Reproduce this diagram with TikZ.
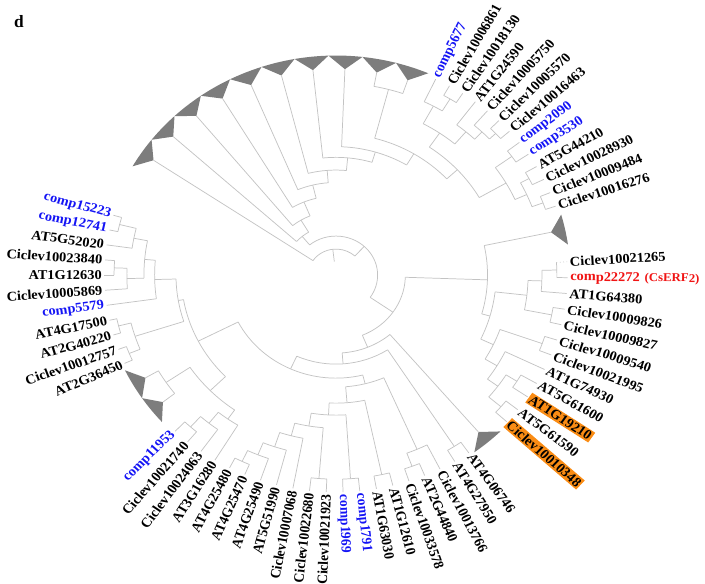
\documentclass[tikz,border=0pt]{standalone}
\usepackage{fontspec}
\setmainfont{Liberation Serif}
\definecolor{branchgray}{RGB}{195,195,195}
\definecolor{cladegray}{RGB}{125,125,125}
\definecolor{hlorange}{RGB}{250,140,20}
\definecolor{compblue}{RGB}{20,20,245}
\definecolor{compred}{RGB}{240,20,20}
\tikzset{
  branch/.style={draw=branchgray, line width=0.55pt},
  clade/.style={fill=cladegray},
  lbl/.style={font=\fontsize{10.1}{11}\selectfont\bfseries, inner sep=1pt, transform shape},
  blu/.style={text=compblue},
  blk/.style={},
  hl/.style={fill=hlorange},
}
% node store: angle and radius of every tree node
\makeatletter
\newcommand\setnd[3]{\expandafter\xdef\csname nda@#1\endcsname{#2}%
  \expandafter\xdef\csname ndr@#1\endcsname{#3}}
\newcommand\nda[1]{\csname nda@#1\endcsname}
\newcommand\ndr[1]{\csname ndr@#1\endcsname}
\makeatother
% leaf with its label
\newcommand\tleaf[4][blk]{%
  \setnd{#2}{#3}{217}%
  \pgfmathtruncatemacro\lfside{cos(#3)>0}%
  \ifnum\lfside=1
    \node[lbl,#1,anchor=west,rotate=#3] (#2) at (#3:218) {#4};
  \else
    \pgfmathsetmacro\lfrot{#3+180}%
    \node[lbl,#1,anchor=east,rotate=\lfrot] (#2) at (#3:218) {#4};
  \fi}
% collapsed clade
\newcommand\ctri[3]{%
  \pgfmathsetmacro\tmid{(#2+#3)/2}%
  \setnd{#1}{\tmid}{206}%
  \fill[clade] (\tmid:206) -- (#2:219.5) arc[start angle=#2, end angle=#3, radius=219.5] -- cycle;}
% inner node joining two children
\newcommand\tjoin[5][]{%
  \edef\jna{\nda{#4}}\edef\jnb{\nda{#5}}%
  \edef\jra{\ndr{#4}}\edef\jrb{\ndr{#5}}%
  \pgfmathsetmacro\jnm{(\jna+\jnb)/2}%
  \setnd{#2}{\jnm}{#3}%
  \draw[branch] (\jna:#3) arc[start angle=\jna, end angle=\jnb, radius=#3];
  \draw[branch,#1] (\jna:#3) -- (\jna:\jra);
  \draw[branch] (\jnb:#3) -- (\jnb:\jrb);}
\newcommand\cserf{comp22272\hspace{3.5pt}{\fontsize{9}{10}\selectfont(CsERF2)}}

\begin{document}
\begin{tikzpicture}[x=0.75pt, y=0.75pt, xscale=1.0667]
  \useasboundingbox (-314.9,275) rectangle (345.8,-308);
  \node[font=\fontsize{13}{15}\selectfont\bfseries, anchor=north west, inner sep=0] (panel) at (-302,260) {d};

  % leaves, upper right
  \foreach \nm/\txt/\sty [count=\i from 0] in {
    u1/comp5677/blu, u2/Ciclev10006861/blk, u3/Ciclev10018130/blk, u4/AT1G24590/blk,
    u5/Ciclev10005750/blk, u6/Ciclev10005570/blk, u7/Ciclev10016463/blk, u8/comp2090/blu,
    u9/comp3530/blu, u10/AT5G44210/blk, u11/Ciclev10028930/blk, u12/Ciclev10009484/blk,
    u13/Ciclev10016276/blk}{
    \pgfmathsetmacro\ang{64.5-3.8333*\i}
    \edef\doleaf{\noexpand\tleaf[\sty]{\nm}{\ang}{\noexpand\txt}}\doleaf
  }
  % leaves, right
  \foreach \nm/\txt/\sty [count=\i from 0] in {
    v1/Ciclev10021265/blk, v2/\cserf/compred, v3/AT1G64380/blk, v4/Ciclev10009826/blk,
    v5/Ciclev10009827/blk, v6/Ciclev10009540/blk, v7/Ciclev10021995/blk, v8/AT1G74930/blk,
    v9/AT5G61600/blk, v10/AT1G19210/hl, v11/AT5G61590/blk, v12/Ciclev10010348/hl}{
    \pgfmathsetmacro\ang{3.5-4.1818*\i}
    \edef\doleaf{\noexpand\tleaf[\sty]{\nm}{\ang}{\noexpand\txt}}\doleaf
  }
  % leaves, bottom
  \foreach \nm/\txt/\sty [count=\i from 0] in {
    w1/AT4G06746/blk, w2/AT4G27950/blk, w3/Ciclev10013766/blk, w4/AT2G44840/blk,
    w5/Ciclev10033578/blk, w6/AT1G12610/blk, w7/AT1G63030/blk, w8/comp1791/blu,
    w9/comp1969/blu, w10/Ciclev10021923/blk, w11/Ciclev10022680/blk, w12/Ciclev10007068/blk,
    w13/AT5G51990/blk, w14/AT4G25490/blk, w15/AT4G25470/blk, w16/AT4G25480/blk,
    w17/AT3G16280/blk, w18/Ciclev10024063/blk, w19/Ciclev10021740/blk, w20/comp11953/blu}{
    \pgfmathsetmacro\ang{-55-4.1579*\i}
    \edef\doleaf{\noexpand\tleaf[\sty]{\nm}{\ang}{\noexpand\txt}}\doleaf
  }
  % leaves, left
  \foreach \nm/\txt/\sty [count=\i from 0] in {
    l1/comp15223/blu, l2/comp12741/blu, l3/AT5G52020/blk, l4/Ciclev10023840/blk,
    l5/AT1G12630/blk, l6/Ciclev10005869/blk, l7/comp5579/blu, l8/AT4G17500/blk,
    l9/AT2G40220/blk, l10/Ciclev10012757/blk, l11/AT2G36450/blk}{
    \pgfmathsetmacro\ang{-196+4*\i}
    \edef\doleaf{\noexpand\tleaf[\sty]{\nm}{\ang}{\noexpand\txt}}\doleaf
  }

  % collapsed clades
  \foreach \i in {1,...,10}{
    \pgfmathsetmacro\ta{150.3-8.35*(\i-1)}
    \pgfmathsetmacro\tb{\ta-8.35}
    \ctri{t\i}{\ta}{\tb}
  }
  \ctri{tr1}{16}{8}
  \ctri{tr2}{-45.4}{-53.8}
  \ctri{tl1}{-154.3}{-145.9}
  \ctri{tl2}{-145.9}{-138}

  % upper clade
  \tjoin{p910}{192}{t9}{t10}
  \tjoin{ua}{206}{u2}{u3}
  \tjoin{ub}{192}{u1}{ua}
  \tjoin{uc}{206}{u6}{u7}
  \tjoin{ud}{198}{u5}{uc}
  \tjoin{ue}{188}{u4}{ud}
  \tjoin{uf}{172}{ub}{ue}
  \tjoin{ug}{203}{u8}{u9}
  \tjoin{uh}{205}{u10}{u11}
  \tjoin{ui}{207}{u12}{u13}
  \tjoin{uj}{196}{uh}{ui}
  \tjoin{uk}{184}{ug}{uj}
  \tjoin{utop}{155}{uf}{uk}
  \tjoin{n8}{141.5}{p910}{utop}
  \tjoin{n7}{128.4}{t8}{n8}
  \tjoin{n6}{117.7}{t7}{n7}
  \tjoin{n5}{105}{t6}{n6}
  \tjoin{n4}{92.6}{t5}{n5}
  \tjoin{n3}{79}{t4}{n4}
  \tjoin{n2}{64}{t3}{n3}
  \tjoin{n1}{50}{t2}{n2}

  % right clade
  \tjoin[dotted]{va}{207}{v1}{v2}
  \tjoin{vb}{193}{va}{v3}
  \tjoin{vc}{206}{v4}{v5}
  \tjoin{vd}{180}{vb}{vc}
  \tjoin{ve}{205}{v6}{v7}
  \tjoin{vf}{200}{v9}{v10}
  \tjoin{vg}{203}{v11}{v12}
  \tjoin{vh}{188}{vf}{vg}
  \tjoin{vi}{176}{v8}{vh}
  \tjoin{vj}{163}{ve}{vi}
  \tjoin{vroot}{150}{vd}{vj}
  \tjoin{dd}{142}{tr1}{vroot}

  % bottom clade
  \tjoin{wa}{204}{w1}{w2}
  \tjoin{wb}{204}{w4}{w5}
  \tjoin{wc}{190}{wb}{w3}
  \tjoin{wd}{206}{w15}{w16}
  \tjoin{we}{194}{w14}{wd}
  \tjoin{wf}{181}{w13}{we}
  \tjoin{wg}{166}{w12}{wf}
  \tjoin{wh}{204}{w10}{w11}
  \tjoin{wi}{153}{wh}{wg}
  \tjoin{wj}{204}{w8}{w9}
  \tjoin{wk}{140}{wj}{wi}
  \tjoin{wl}{204}{w6}{w7}
  \tjoin{wm}{128}{wl}{wk}
  \tjoin{bm}{112}{wm}{wc}
  \tjoin{pa}{204}{w20}{w19}
  \tjoin{pb}{190}{pa}{w18}
  \tjoin{pc}{176}{pb}{w17}

  % left clade
  \tjoin{qa}{209}{l1}{l2}
  \tjoin{qb}{193}{qa}{l3}
  \tjoin{qc}{208}{l4}{l5}
  \tjoin{qd}{196}{qc}{l6}
  \tjoin{qe}{180}{qb}{qd}
  \tjoin{qf}{170}{qe}{l7}
  \tjoin{qg}{210}{l8}{l9}
  \tjoin{qh}{209}{l10}{l11}
  \tjoin{qi}{198}{qg}{qh}
  \tjoin{qroot}{150}{qf}{qi}
  \tjoin{tl}{192}{tl1}{tl2}
  \tjoin{ls1}{165}{tl}{pc}
  \tjoin{ls}{145}{qroot}{ls1}

  % backbone
  \tjoin{hh}{103}{ls}{bm}
  \tjoin{ff}{89}{hh}{wa}
  \tjoin{ee}{78}{ff}{tr2}
  \tjoin{cc}{65}{dd}{ee}
  \tjoin{bb}{39}{n1}{cc}
  \tjoin{r0}{26}{t1}{bb}
  \draw[branch] (\nda{r0}:26) -- (\nda{r0}:13.6);
\end{tikzpicture}
\end{document}
